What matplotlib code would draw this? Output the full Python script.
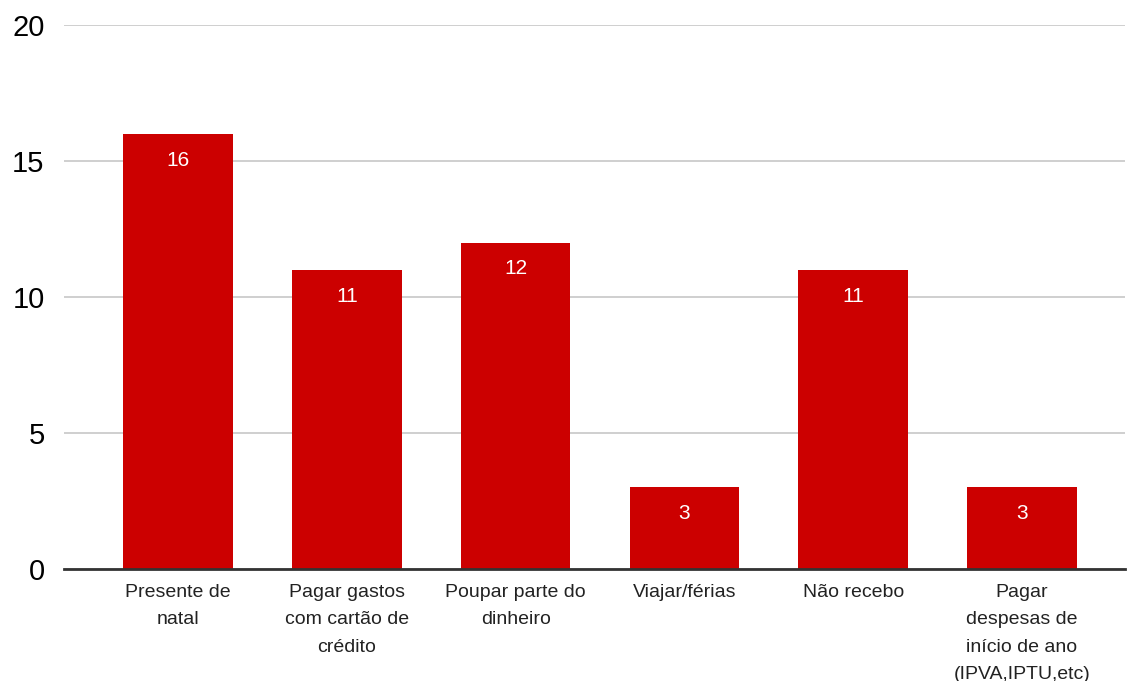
import matplotlib
matplotlib.use("Agg")
import matplotlib.pyplot as plt

categories = ["Presente de\nnatal", "Pagar gastos\ncom cartão de\ncrédito", "Poupar parte do\ndinheiro",
              "Viajar/férias", "Não recebo", "Pagar\ndespesas de\ninício de ano\n(IPVA,IPTU,etc)"]
values = [16, 11, 12, 3, 11, 3]
yticks = [0, 5, 10, 15, 20]

plt.rcParams['font.family'] = ['Liberation Sans', 'DejaVu Sans']
fig = plt.figure(figsize=(11.27, 6.81), dpi=100)
ax = fig.add_axes([64/1127, 1-569/681, (1125-64)/1127, (569-25)/681])

x = list(range(len(categories)))
bars = ax.bar(x, values, width=0.65, color="#cc0000", zorder=3)
for b, v in zip(bars, values):
    ax.annotate(str(v), (b.get_x() + b.get_width()/2, v), xytext=(0, -19), textcoords="offset points",
                ha="center", va="center", color="white", fontsize=15, zorder=4)

ax.set_ylim(0, 20)
ax.set_xlim(-0.675, 5.61)
ax.set_yticks(yticks)
ax.set_yticklabels([str(t) for t in yticks], fontsize=21, color="black")
ax.set_xticks(x)
ax.set_xticklabels(categories, fontsize=14, linespacing=1.78, va="top", color="#222222")
ax.tick_params(axis="both", length=0)
ax.tick_params(axis="x", pad=11)
ax.tick_params(axis="y", pad=14)
ax.grid(axis="y", color="#cccccc", linewidth=1.3, zorder=0)
for s in ["top", "right", "left"]:
    ax.spines[s].set_visible(False)
ax.spines["bottom"].set_color("#333333")
ax.spines["bottom"].set_linewidth(2)
ax.spines["bottom"].set_zorder(5)

fig.savefig("out.png", dpi=100, facecolor="white")
